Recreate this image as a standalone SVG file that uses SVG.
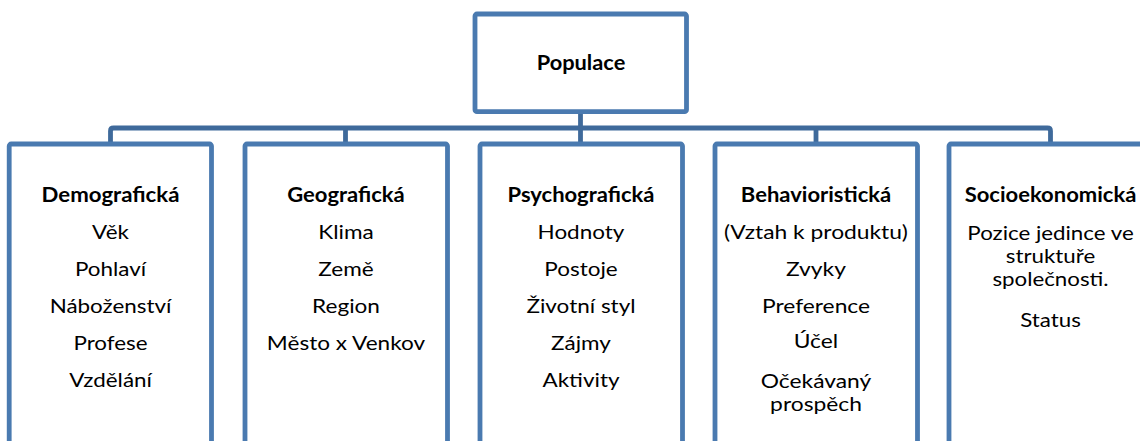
<svg xmlns="http://www.w3.org/2000/svg" width="1140" height="441" viewBox="0 0 1140 441">
<style>
.box{fill:#fff;stroke:#4A7AB0;stroke-width:4.8}
.conn{fill:none;stroke:#3F6A9B;stroke-width:4.8;stroke-linejoin:round}
text{font-family:Lato,"Open Sans",sans-serif;font-size:20px;fill:#000;text-anchor:middle}
.h{font-weight:bold}
</style>
<rect width="1140" height="441" fill="#fff"/>
<g id="connectors">
<path class="conn" d="M580.5 112 V128"/>
<path class="conn" d="M110.5 144 V131 Q110.5 128 113.5 128 H1047.5 Q1050.5 128 1050.5 131 V144"/>
<path class="conn" d="M345.5 128 V144 M580.5 128 V144 M816 128 V144"/>
</g>
<g id="populace">
<rect class="box" x="475" y="14" width="211.5" height="97.7" rx="2"/>
<text class="h" transform="translate(581 70) scale(1.09 1)">Populace</text>
</g>
<g id="demograficka">
<rect class="box" x="9.2" y="144" width="202.3" height="310" rx="2"/>
<text class="h" transform="translate(110.5 201.7) scale(1.11 1)">Demografická</text>
<g transform="translate(110.5 0) scale(1.12 1)">
<text y="239">Věk</text>
<text y="276">Pohlaví</text>
<text y="313">Náboženství</text>
<text y="350">Profese</text>
<text y="387">Vzdělání</text>
</g>
</g>
<g id="geograficka">
<rect class="box" x="245" y="144" width="202.5" height="310" rx="2"/>
<text class="h" transform="translate(346 201.7) scale(1.1 1)">Geografická</text>
<g transform="translate(346 0) scale(1.13 1)">
<text y="239">Klima</text>
<text y="276">Země</text>
<text y="313">Region</text>
<text y="350">Město x Venkov</text>
</g>
</g>
<g id="psychograficka">
<rect class="box" x="480" y="144" width="202.5" height="310" rx="2"/>
<text class="h" transform="translate(581 201.7) scale(1.1 1)">Psychografická</text>
<g transform="translate(581 0) scale(1.125 1)">
<text y="239">Hodnoty</text>
<text y="276">Postoje</text>
<text y="313">Životní styl</text>
<text y="350">Zájmy</text>
<text y="387">Aktivity</text>
</g>
</g>
<g id="behavioristicka">
<rect class="box" x="715" y="144" width="202.5" height="310" rx="2"/>
<text class="h" transform="translate(816 201.7) scale(1.1 1)">Behavioristická</text>
<g transform="translate(816 0) scale(1.14 1)">
<text y="239.5">(Vztah k produktu)</text>
<text y="276.5">Zvyky</text>
<text y="312.7">Preference</text>
<text y="348.5">Účel</text>
<text y="388.3">Očekávaný</text>
<text y="410.7">prospěch</text>
</g>
</g>
<g id="socioekonomicka">
<rect class="box" x="949" y="144" width="202.5" height="310" rx="2"/>
<text class="h" transform="translate(1050.5 201.7) scale(1.1 1)">Socioekonomická</text>
<g transform="translate(1050.5 0) scale(1.115 1)">
<text y="240">Pozice jedince ve</text>
<text y="263">struktuře</text>
<text y="286">společnosti.</text>
<text y="326.7">Status</text>
</g>
</g>
</svg>
